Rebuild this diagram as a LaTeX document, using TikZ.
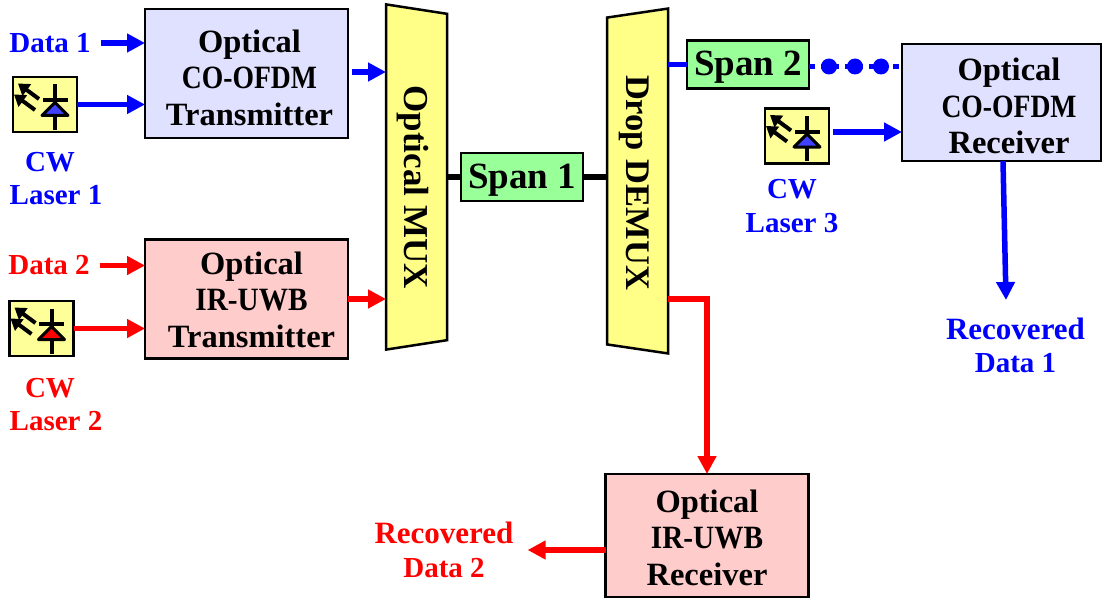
\documentclass[tikz,border=0pt]{standalone}
\usepackage{xcolor}
\usepackage{fontspec}
\setmainfont{Liberation Serif}
\usetikzlibrary{arrows.meta, positioning, shapes.geometric}
\definecolor{paleblue}{HTML}{E0E0FF}
\definecolor{palered}{HTML}{FFCCCC}
\definecolor{palegreen}{HTML}{99FF99}
\definecolor{paleyellow}{HTML}{FFFF88}
\definecolor{laseryellow}{HTML}{FFFF99}
\tikzset{
	block/.style={draw=black, line width=2.5pt, inner sep=0pt, outer sep=0pt, minimum width=203pt, minimum height=#1},
	blocktext/.style={inner sep=0pt, align=center, font=\fontsize{32.5}{36.5}\selectfont\bfseries},
	spanblock/.style={draw=black, line width=2.5pt, inner sep=0pt, outer sep=0pt, fill=palegreen, minimum width=122pt, minimum height=48pt, text depth=2pt, font=\fontsize{37}{37}\selectfont\bfseries},
	muxblock/.style={trapezium, draw=black, line width=2.5pt, inner sep=0pt, outer sep=0pt, fill=paleyellow, rotate=-90, trapezium stretches=true, trapezium left angle=75.7, trapezium right angle=75.7, minimum width=346pt, minimum height=61pt, text depth=1pt, font=\fontsize{35}{36}\selectfont\bfseries},
	laserbox/.style={draw=black, line width=2.5pt, fill=laseryellow, inner sep=0pt, outer sep=0pt, minimum width=64pt, minimum height=55pt},
	textlabel/.style={inner sep=0pt, align=center, font=\fontsize{29}{33.5}\selectfont\bfseries},
	link/.style={line width=5.5pt},
	linkarrow/.style={line width=5.5pt, -{Triangle[length=18pt, width=18pt]}},
	bluedot/.style={circle, fill=blue, inner sep=0pt, minimum size=16pt}
}
\newcommand{\coofdm}{\scalebox{0.85}[1]{CO-OFDM}}
\newcommand{\iruwb}{\scalebox{0.9}[1]{IR-UWB}}
\newcommand{\recword}{{\fontsize{31}{33.5}\selectfont Recovered}}
\newcommand{\lasericon}[2]{
	\draw[shift={(#1)}, line width=4pt] (10,-20) -- (10,25);
	\draw[shift={(#1)}, line width=4pt] (-2.5,-4.5) -- (22.5,-4.5);
	\draw[shift={(#1)}, line width=3pt, fill=#2, line join=round] (10,-2) -- (23,11) -- (-3,11) -- cycle;
	\draw[shift={(#1)}, line width=4pt, -{Triangle[length=11pt, width=14pt]}] (-6,-5.5) -- (-27,-21);
	\draw[shift={(#1)}, line width=4pt, -{Triangle[length=11pt, width=14pt]}] (-10,5.5) -- (-31,-10);
}

\begin{document}
\begin{tikzpicture}[x=1pt, y=-1pt]
	\useasboundingbox (0,0) rectangle (1102,599);
	
	\node[block=129pt, fill=paleblue] (tx1) at (246.5,73.5) {};
	\node[block=119pt, fill=palered] (tx2) at (246.5,299) {};
	\node[block=117pt, fill=paleblue, minimum width=199pt] (rx1) at (1001.5,102.5) {};
	\node[block=123pt, fill=palered] (rx2) at (707,535.5) {};
	\node[blocktext] (tx1text) at (249.5,77.5) {Optical\\\coofdm\\Transmitter};
	\node[blocktext] (tx2text) at (251.5,299.5) {Optical\\\iruwb\\Transmitter};
	\node[blocktext] (rx1text) at (1009,106) {Optical\\\coofdm\\Receiver};
	\node[blocktext] (rx2text) at (707,537.5) {Optical\\\iruwb\\Receiver};
	
	\node[muxblock] (mux) at (416.5,177) {\hspace*{20pt}Optical MUX};
	\node[muxblock, shape border rotate=180, font=\fontsize{34.5}{36}\selectfont\bfseries] (demux) at (637.5,181) {\hspace*{3pt}Drop DEMUX};
	\node[spanblock] (span1) at (522,177) {Span 1};
	\node[spanblock] (span2) at (748,64.5) {Span 2};
	
	\node[laserbox] (laser1) at (45,104.5) {};
	\node[laserbox] (laser2) at (41.5,328.5) {};
	\node[laserbox] (laser3) at (797,136) {};
	\lasericon{laser1}{blue!75!white}
	\lasericon{laser2}{red}
	\lasericon{laser3}{blue!75!white}
	
	\node[textlabel, text=blue] (data1) at (50,43) {Data 1};
	\node[textlabel, text=red] (data2) at (49,265.5) {Data 2};
	\node[textlabel, text=blue] (cw1) at (56,178.5) {CW\rule{12pt}{0pt}\\Laser 1};
	\node[textlabel, text=red] (cw2) at (56,404.5) {CW\rule{12pt}{0pt}\\Laser 2};
	\node[textlabel, text=blue] (cw3) at (792,206) {CW\\Laser 3};
	\node[textlabel, text=blue] (rec1) at (1015.5,345.5) {\recword\\Data 1};
	\node[textlabel, text=red] (rec2) at (444,550) {\recword\\Data 2};
	\coordinate (rec1tip) at (1006,300);
	
	\draw[linkarrow, blue] ([xshift=10pt]data1.east) -- (data1.east -| tx1.west);
	\draw[linkarrow, blue] (laser1.east) -- (laser1.east -| tx1.west);
	\draw[linkarrow, blue] ([xshift=4pt, yshift=1.5pt]tx1.east) -- ([yshift=1.5pt]tx1.east -| mux.south);
	\draw[linkarrow, red] ([xshift=10pt]data2.east) -- (data2.east -| tx2.west);
	\draw[linkarrow, red] (laser2.east) -- (laser2.east -| tx2.west);
	\draw[linkarrow, red] (tx2.east) -- (tx2.east -| mux.south);
	\draw[link, line width=6pt] (mux.north |- span1.west) -- (span1.west);
	\draw[link, line width=6pt] (span1.east) -- (span1.east -| demux.south);
	\draw[link, blue] (span2.west -| demux.north) -- (span2.west);
	\draw[link, blue, dash pattern=on 6pt off 6pt] ([yshift=-2pt]span2.east) -- ([yshift=-2pt]span2.east -| rx1.west);
	\foreach \i/\px in {1/829,2/855,3/881}
		\node[bluedot] (dot\i) at (\px,66.5) {};
	\draw[linkarrow, blue] ([xshift=4pt, yshift=4pt]laser3.east) -- ([yshift=4pt]laser3.east -| rx1.west);
	\draw[linkarrow, blue] ([xshift=1.5pt]rx1.south) -- (rec1tip);
	\draw[linkarrow, red] (demux.north |- tx2.east) -| (rx2.north);
	\draw[linkarrow, red] (rx2.west |- rec2.east) -- ([xshift=14pt]rec2.east);
\end{tikzpicture}
\end{document}
